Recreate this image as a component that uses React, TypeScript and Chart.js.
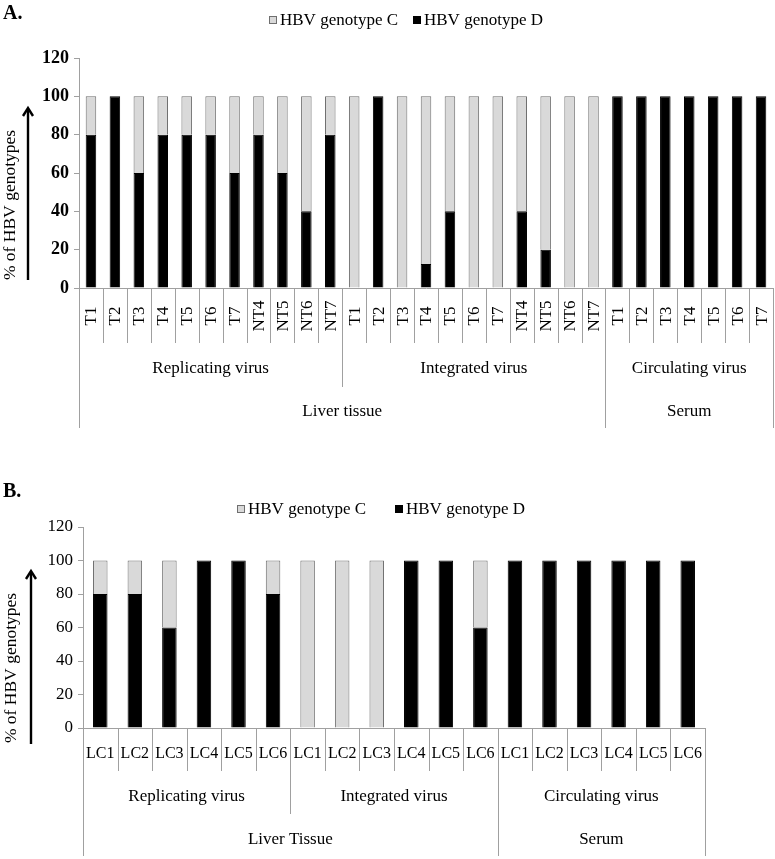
import React, { useEffect, useRef } from "react";
import { Chart, registerables } from "chart.js";

Chart.register(...registerables);

const SERIF = "'Liberation Serif', 'Times New Roman', serif";

// ---------- Panel A data ----------
const aCategories = [
  "T1", "T2", "T3", "T4", "T5", "T6", "T7", "NT4", "NT5", "NT6", "NT7",
  "T1", "T2", "T3", "T4", "T5", "T6", "T7", "NT4", "NT5", "NT6", "NT7",
  "T1", "T2", "T3", "T4", "T5", "T6", "T7",
];
const aGroups = ["Replicating virus", "Integrated virus", "Circulating virus"];
const aGroupSizes = [11, 11, 7];
const aTissues = ["Liver tissue", "Serum"];
const aTissueSizes = [22, 7];
const aGenotypeD = [
  80, 100, 60, 80, 80, 80, 60, 80, 60, 40, 80,
  0, 100, 0, 12.5, 40, 0, 0, 40, 20, 0, 0,
  100, 100, 100, 100, 100, 100, 100,
];
const aGenotypeC = [
  20, 0, 40, 20, 20, 20, 40, 20, 40, 60, 20,
  100, 0, 100, 87.5, 60, 100, 100, 60, 80, 100, 100,
  0, 0, 0, 0, 0, 0, 0,
];

// ---------- Panel B data ----------
const bCategories = [
  "LC1", "LC2", "LC3", "LC4", "LC5", "LC6",
  "LC1", "LC2", "LC3", "LC4", "LC5", "LC6",
  "LC1", "LC2", "LC3", "LC4", "LC5", "LC6",
];
const bGroups = ["Replicating virus", "Integrated virus", "Circulating virus"];
const bGroupSizes = [6, 6, 6];
const bTissues = ["Liver Tissue", "Serum"];
const bTissueSizes = [12, 6];
const bGenotypeD = [
  80, 80, 60, 100, 100, 80,
  0, 0, 0, 100, 100, 60,
  100, 100, 100, 100, 100, 100,
];
const bGenotypeC = [
  20, 20, 40, 0, 0, 20,
  100, 100, 100, 0, 0, 40,
  0, 0, 0, 0, 0, 0,
];

const seriesNames = ["HBV genotype C", "HBV genotype D"];
const yTitle = "% of HBV genotypes";

const C_FILL = "#d9d9d9";
const C_BORDER = "#6f6f6f";
const D_FILL = "#000000";
const LINE = "#a0a0a0";

type Cfg = {
  labels: string[];
  groups: string[];
  groupSizes: number[];
  tissues: string[];
  tissueSizes: number[];
  d: number[];
  c: number[];
  width: number;
  height: number;
  left: number;
  right: number;
  top: number;
  bottom: number;
  panel: string;
  panelY: number;
  legendY: number;
  legendCX: number;
  legendDX: number;
  legendSize: number;
  tickBold: boolean;
  tickSize: number;
  rotate: boolean;
  l1Size: number;
  l1Y: number;
  l1End: number;
  l2Y: number;
  l2End: number;
  l3Y: number;
  l3End: number;
  titleX: number;
  titleY: number;
  arrowX: number;
  arrowTop: number;
  arrowBottom: number;
  barPct: number;
};

const cfgA: Cfg = {
  labels: aCategories,
  groups: aGroups,
  groupSizes: aGroupSizes,
  tissues: aTissues,
  tissueSizes: aTissueSizes,
  d: aGenotypeD,
  c: aGenotypeC,
  width: 775,
  height: 440,
  left: 79,
  right: 773,
  top: 58,
  bottom: 288,
  panel: "A.",
  panelY: 14,
  legendY: 20,
  legendCX: 269,
  legendDX: 413,
  legendSize: 17,
  tickBold: true,
  tickSize: 18,
  rotate: true,
  l1Size: 17,
  l1Y: 316,
  l1End: 343,
  l2Y: 369,
  l2End: 387,
  l3Y: 412,
  l3End: 428,
  titleX: 10,
  titleY: 205,
  arrowX: 28,
  arrowTop: 108,
  arrowBottom: 280,
  barPct: 0.44,
};

const cfgB: Cfg = {
  labels: bCategories,
  groups: bGroups,
  groupSizes: bGroupSizes,
  tissues: bTissues,
  tissueSizes: bTissueSizes,
  d: bGenotypeD,
  c: bGenotypeC,
  width: 775,
  height: 419,
  left: 83,
  right: 705,
  top: 87,
  bottom: 288,
  panel: "B.",
  panelY: 52,
  legendY: 69,
  legendCX: 237,
  legendDX: 395,
  legendSize: 17,
  tickBold: false,
  tickSize: 17,
  rotate: false,
  l1Size: 16,
  l1Y: 314,
  l1End: 331,
  l2Y: 357,
  l2End: 374,
  l3Y: 400,
  l3End: 416,
  titleX: 11,
  titleY: 228,
  arrowX: 31,
  arrowTop: 131,
  arrowBottom: 304,
  barPct: 0.42,
};

function cum(sizes: number[]): number[] {
  const out = [0];
  let s = 0;
  for (const v of sizes) {
    s += v;
    out.push(s);
  }
  return out;
}

function overlayPlugin(cfg: Cfg) {
  return {
    id: "overlay",
    afterDraw(chart: any) {
      const ctx: CanvasRenderingContext2D = chart.ctx;
      const x = chart.scales.x;
      const area = chart.chartArea;
      const n = chart.data.labels.length;
      const step = (x.right - x.left) / n;
      const edge = (i: number) => x.left + i * step;
      const px = (v: number) => Math.round(v) + 0.5;

      ctx.save();
      // panel letter
      ctx.fillStyle = "#000";
      ctx.font = `bold 20px ${SERIF}`;
      ctx.textAlign = "left";
      ctx.textBaseline = "middle";
      ctx.fillText(cfg.panel, 3, cfg.panelY);

      // legend
      ctx.font = `${cfg.legendSize}px ${SERIF}`;
      const box = 8;
      const drawBox = (bx: number, fill: string, stroke: string, label: string) => {
        ctx.fillStyle = fill;
        ctx.fillRect(bx, cfg.legendY - box / 2, box, box);
        ctx.strokeStyle = stroke;
        ctx.lineWidth = 1;
        ctx.strokeRect(bx + 0.5, cfg.legendY - box / 2 + 0.5, box - 1, box - 1);
        ctx.fillStyle = "#000";
        ctx.textBaseline = "middle";
        ctx.fillText(label, bx + box + 3, cfg.legendY + 1);
      };
      const ds = chart.data.datasets;
      drawBox(cfg.legendCX, ds[1].backgroundColor, ds[1].borderColor, ds[1].label);
      drawBox(cfg.legendDX, ds[0].backgroundColor, ds[0].borderColor, ds[0].label);

      // y title
      ctx.save();
      ctx.translate(cfg.titleX, cfg.titleY);
      ctx.rotate(-Math.PI / 2);
      ctx.font = `17.5px ${SERIF}`;
      ctx.textAlign = "center";
      ctx.textBaseline = "middle";
      ctx.fillStyle = "#000";
      ctx.fillText(yTitle, 0, 0);
      ctx.restore();

      // arrow
      ctx.strokeStyle = "#000";
      ctx.lineWidth = 2.4;
      ctx.beginPath();
      ctx.moveTo(cfg.arrowX, cfg.arrowBottom);
      ctx.lineTo(cfg.arrowX, cfg.arrowTop + 1);
      ctx.stroke();
      ctx.beginPath();
      ctx.moveTo(cfg.arrowX - 5, cfg.arrowTop + 8);
      ctx.lineTo(cfg.arrowX, cfg.arrowTop);
      ctx.lineTo(cfg.arrowX + 5, cfg.arrowTop + 8);
      ctx.stroke();

      // separators
      const gB = cum(cfg.groupSizes);
      const tB = cum(cfg.tissueSizes);
      ctx.strokeStyle = LINE;
      ctx.lineWidth = 1;
      for (let i = 0; i <= n; i++) {
        let end = cfg.l1End;
        if (tB.includes(i)) end = cfg.l3End;
        else if (gB.includes(i)) end = cfg.l2End;
        const ex = px(edge(i));
        ctx.beginPath();
        ctx.moveTo(ex, area.bottom);
        ctx.lineTo(ex, end);
        ctx.stroke();
      }

      // level 1 labels
      ctx.fillStyle = "#000";
      ctx.font = `${cfg.l1Size}px ${SERIF}`;
      ctx.textAlign = "center";
      ctx.textBaseline = "middle";
      chart.data.labels.forEach((lab: string, i: number) => {
        const cx = x.getPixelForValue(i);
        if (cfg.rotate) {
          ctx.save();
          ctx.translate(cx + 1, cfg.l1Y);
          ctx.rotate(-Math.PI / 2);
          ctx.fillText(lab, 0, 0);
          ctx.restore();
        } else {
          ctx.fillText(lab, cx, cfg.l1Y);
        }
      });

      // level 2 labels
      ctx.font = `17px ${SERIF}`;
      cfg.groups.forEach((g, k) => {
        const cx = (edge(gB[k]) + edge(gB[k + 1])) / 2;
        ctx.fillText(g, cx, cfg.l2Y);
      });
      // level 3 labels
      cfg.tissues.forEach((t, k) => {
        const cx = (edge(tB[k]) + edge(tB[k + 1])) / 2;
        ctx.fillText(t, cx, cfg.l3Y);
      });
      ctx.restore();
    },
  };
}

function PanelChart({ cfg, top }: { cfg: Cfg; top: number }) {
  const ref = useRef<HTMLCanvasElement | null>(null);
  useEffect(() => {
    if (!ref.current) return;
    const nz = (arr: number[]) => arr.map((v) => (v === 0 ? null : v));
    const chart = new Chart(ref.current, {
      type: "bar",
      data: {
        labels: cfg.labels,
        datasets: [
          {
            label: seriesNames[1],
            data: nz(cfg.d) as any,
            backgroundColor: D_FILL,
            borderColor: "#000000",
            borderWidth: 1,
            categoryPercentage: 1,
            barPercentage: cfg.barPct,
          },
          {
            label: seriesNames[0],
            data: nz(cfg.c) as any,
            backgroundColor: C_FILL,
            borderColor: C_BORDER,
            borderWidth: 1,
            categoryPercentage: 1,
            barPercentage: cfg.barPct,
          },
        ],
      },
      options: {
        animation: false,
        responsive: false,
        devicePixelRatio: 1,
        events: [],
        layout: {
          padding: {
            left: 0,
            right: cfg.width - cfg.right,
            top: cfg.top,
            bottom: 0,
          },
        },
        plugins: {
          legend: { display: false },
          title: { display: false },
          tooltip: { enabled: false },
        },
        scales: {
          x: {
            stacked: true,
            offset: true,
            grid: { display: false },
            border: { display: true, color: LINE, width: 1 },
            ticks: { display: false },
            afterFit: (s: any) => {
              s.height = cfg.height - cfg.bottom;
            },
          },
          y: {
            stacked: true,
            min: 0,
            max: 120,
            grid: {
              display: true,
              drawOnChartArea: false,
              drawTicks: true,
              tickLength: 5,
              color: LINE,
            },
            border: { display: true, color: LINE, width: 1 },
            ticks: {
              stepSize: 20,
              padding: 5,
              color: "#000",
              font: {
                family: SERIF,
                size: cfg.tickSize,
                weight: cfg.tickBold ? "bold" : "normal",
              },
            },
            afterFit: (s: any) => {
              s.width = cfg.left;
            },
          },
        },
      },
      plugins: [overlayPlugin(cfg)],
    });
    return () => chart.destroy();
  }, [cfg]);
  return (
    <canvas
      ref={ref}
      width={cfg.width}
      height={cfg.height}
      style={{
        position: "absolute",
        left: 0,
        top,
        width: cfg.width,
        height: cfg.height,
      }}
    />
  );
}

export default function App() {
  return (
    <div
      style={{
        position: "absolute",
        left: 0,
        top: 0,
        width: 775,
        height: 859,
        background: "#fff",
      }}
    >
      <PanelChart cfg={cfgA} top={0} />
      <PanelChart cfg={cfgB} top={440} />
    </div>
  );
}
